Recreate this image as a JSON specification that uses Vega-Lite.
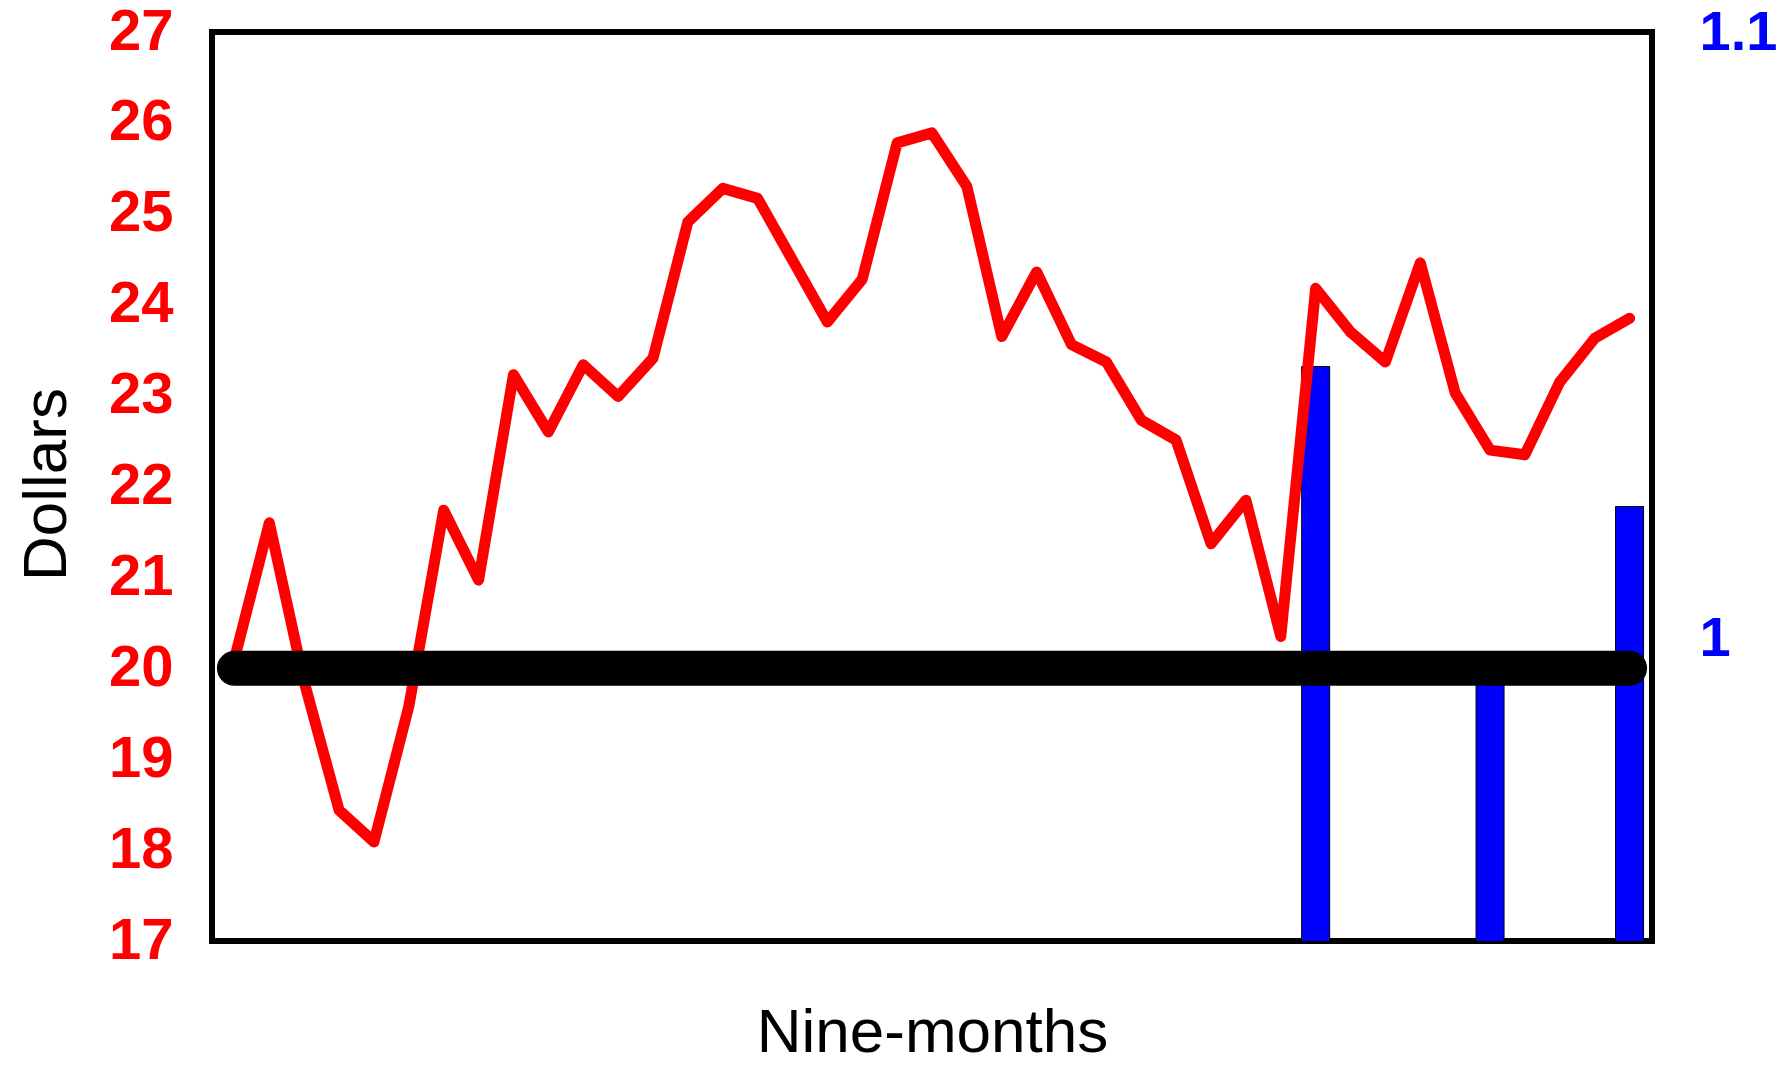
{
  "$schema": "https://vega.github.io/schema/vega-lite/v6.json",
  "width": 1440,
  "height": 909,
  "autosize": {"type": "none"},
  "padding": {"left": 212, "top": 32, "right": 136, "bottom": 124},
  "background": "white",
  "config": {
    "view": {"stroke": "black", "strokeWidth": 6},
    "font": "Liberation Sans"
  },
  "datasets": {
    "prices": [
      {"i": 0, "price": 20.1}, {"i": 1, "price": 21.6}, {"i": 2, "price": 19.85},
      {"i": 3, "price": 18.44}, {"i": 4, "price": 18.09}, {"i": 5, "price": 19.58},
      {"i": 6, "price": 21.74}, {"i": 7, "price": 20.97}, {"i": 8, "price": 23.23},
      {"i": 9, "price": 22.6}, {"i": 10, "price": 23.34}, {"i": 11, "price": 22.99},
      {"i": 12, "price": 23.41}, {"i": 13, "price": 24.91}, {"i": 14, "price": 25.28},
      {"i": 15, "price": 25.17}, {"i": 16, "price": 24.49}, {"i": 17, "price": 23.81},
      {"i": 18, "price": 24.28}, {"i": 19, "price": 25.78}, {"i": 20, "price": 25.89},
      {"i": 21, "price": 25.3}, {"i": 22, "price": 23.65}, {"i": 23, "price": 24.36},
      {"i": 24, "price": 23.56}, {"i": 25, "price": 23.37}, {"i": 26, "price": 22.73},
      {"i": 27, "price": 22.51}, {"i": 28, "price": 21.37}, {"i": 29, "price": 21.85},
      {"i": 30, "price": 20.35}, {"i": 31, "price": 24.18}, {"i": 32, "price": 23.7},
      {"i": 33, "price": 23.37}, {"i": 34, "price": 24.46}, {"i": 35, "price": 23.03},
      {"i": 36, "price": 22.4}, {"i": 37, "price": 22.35}, {"i": 38, "price": 23.15},
      {"i": 39, "price": 23.63}, {"i": 40, "price": 23.85}
    ],
    "bars": [
      {"i": 31, "ratio": 1.0448},
      {"i": 36, "ratio": 0.994},
      {"i": 40, "ratio": 1.0217}
    ]
  },
  "layer": [
    {
      "data": {"name": "bars"},
      "mark": {"type": "bar", "size": 28, "color": "#0000FF", "stroke": "#000000", "strokeWidth": 1, "clip": true},
      "encoding": {
        "x": {
          "field": "i", "type": "quantitative",
          "scale": {"domain": [-0.5, 40.5], "nice": false, "zero": false},
          "axis": {
            "title": "Nine-months", "labels": false, "ticks": false, "tickSize": 0, "domain": false, "grid": false,
            "titleFontSize": 62, "titleFontWeight": "normal", "titleColor": "black", "titleFont": "Liberation Sans",
            "titleX": 720, "titleY": 110, "titleBaseline": "alphabetic", "titleAlign": "center"
          }
        },
        "y": {
          "field": "ratio", "type": "quantitative",
          "scale": {"domain": [0.95, 1.1], "nice": false, "zero": false},
          "axis": {
            "orient": "right", "title": null, "values": [1, 1.1], "format": "~g",
            "labelFontSize": 56, "labelFontWeight": "bold", "labelColor": "#0000FF", "labelFont": "Liberation Sans",
            "labelPadding": 47, "labelAlign": "left", "ticks": false, "tickSize": 0, "domain": false, "grid": false, "labelOverlap": false
          }
        }
      }
    },
    {
      "data": {"name": "prices"},
      "layer": [
        {
          "mark": {"type": "line", "color": "#FF0000", "strokeWidth": 11, "strokeJoin": "round", "strokeCap": "round"},
          "encoding": {
            "x": {
              "field": "i", "type": "quantitative",
              "scale": {"domain": [-0.5, 40.5], "nice": false, "zero": false},
              "axis": {
                "title": "Nine-months", "labels": false, "ticks": false, "tickSize": 0, "domain": false, "grid": false,
                "titleFontSize": 62, "titleFontWeight": "normal", "titleColor": "black", "titleFont": "Liberation Sans",
                "titleX": 720, "titleY": 110, "titleBaseline": "alphabetic", "titleAlign": "center"
              }
            },
            "y": {
              "field": "price", "type": "quantitative",
              "scale": {"domain": [17, 27], "nice": false, "zero": false},
              "axis": {
                "orient": "left", "title": "Dollars", "values": [17, 18, 19, 20, 21, 22, 23, 24, 25, 26, 27], "format": "d",
                "labelFontSize": 58, "labelFontWeight": "bold", "labelColor": "#FF0000", "labelFont": "Liberation Sans",
                "labelPadding": 39, "ticks": false, "tickSize": 0, "domain": false, "grid": false, "labelOverlap": false,
                "titleFontSize": 62, "titleFontWeight": "normal", "titleColor": "black", "titleFont": "Liberation Sans",
                "titleAngle": -90, "titleX": -147, "titleY": 452, "titleBaseline": "alphabetic", "titleAlign": "center"
              }
            }
          }
        },
        {
          "mark": {"type": "rule", "color": "black", "strokeWidth": 35, "strokeCap": "round"},
          "encoding": {
            "x": {"aggregate": "min", "field": "i", "type": "quantitative", "title": "Nine-months"},
            "x2": {"aggregate": "max", "field": "i"},
            "y": {"datum": 20, "type": "quantitative"}
          }
        }
      ]
    }
  ],
  "resolve": {"scale": {"y": "independent"}}
}
